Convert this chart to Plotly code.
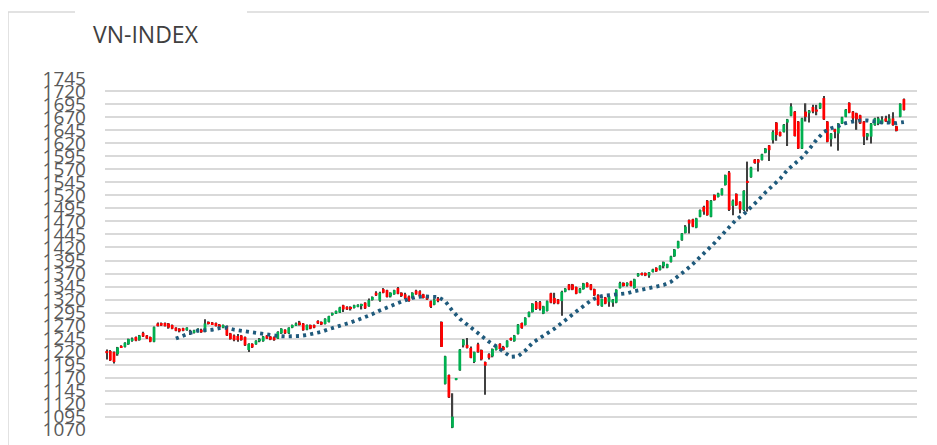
import plotly.graph_objects as go

# ---- data ----
OPEN = [1221,1221,1219,1215,1231,1229,1234,1242,1248,1242,1256,1251,1248,1239,1274,1275,1275,1274,1271,1266,
        1264,1265,1261,1258,1256,1258,1262,1258,1277,1276,1275,1272,1266,1269,1255,1251,1250,1251,1248,1223,
        1235,1234,1240,1240,1251,1249,1248,1245,1255,1262,1255,1266,1270,1276,1274,1262,1271,1271,1279,1277,
        1273,1277,1290,1293,1295,1309,1306,1305,1304,1306,1308,1314,1307,1319,1333,1318,1340,1338,1326,1330,
        1342,1333,1330,1326,1323,1337,1336,1330,1326,1317,1310,1322,1277,1158,1175,1074,1166,1184,1232,1233,
        1227,1200,1234,1223,1200,1215,1211,1223,1235,1229,1229,1246,1240,1254,1275,1271,1287,1296,1315,1315,
        1293,1298,1332,1323,1320,1317,1335,1349,1349,1344,1333,1340,1352,1349,1340,1328,1307,1324,1315,1314,
        1314,1342,1352,1347,1355,1342,1365,1371,1371,1366,1373,1381,1377,1384,1381,1392,1403,1419,1434,1448,
        1473,1474,1458,1479,1498,1510,1479,1521,1517,1521,1540,1564,1500,1523,1508,1492,1548,1555,1589,1589,
        1588,1602,1616,1626,1660,1642,1642,1660,1673,1681,1662,1610,1681,1678,1690,1685,1687,1707,1662,1628,
        1647,1639,1658,1671,1698,1681,1678,1674,1662,1633,1633,1655,1658,1658,1668,1658,1668,1653,1671,1705]
HIGH = [1224,1223,1220,1229,1232,1238,1245,1247,1249,1252,1258,1252,1249,1268,1276,1276,1276,1275,1272,1267,
        1265,1266,1267,1262,1262,1265,1264,1282,1278,1277,1276,1273,1272,1270,1256,1253,1254,1252,1249,1236,
        1236,1242,1246,1250,1252,1250,1249,1259,1265,1263,1267,1272,1276,1279,1275,1272,1272,1272,1280,1278,
        1284,1289,1295,1299,1306,1310,1307,1307,1310,1311,1312,1315,1322,1326,1336,1335,1342,1339,1334,1339,
        1344,1334,1333,1328,1334,1339,1338,1331,1327,1318,1322,1325,1278,1212,1176,1140,1169,1225,1244,1246,
        1230,1220,1237,1224,1201,1217,1226,1233,1236,1231,1242,1247,1252,1273,1276,1286,1297,1313,1317,1317,
        1308,1318,1333,1333,1321,1337,1342,1350,1350,1345,1342,1352,1353,1350,1341,1330,1322,1325,1327,1321,
        1340,1354,1353,1353,1356,1360,1371,1372,1372,1373,1379,1382,1386,1393,1389,1404,1417,1433,1448,1463,
        1474,1475,1477,1493,1500,1511,1511,1522,1525,1534,1560,1567,1512,1524,1509,1530,1585,1575,1590,1590,
        1600,1611,1617,1645,1661,1643,1657,1667,1697,1682,1663,1669,1697,1684,1694,1694,1698,1711,1663,1640,
        1648,1659,1671,1686,1699,1682,1679,1675,1663,1640,1659,1669,1671,1672,1673,1676,1680,1654,1697,1706]
LOW = [1205,1202,1197,1212,1227,1228,1233,1239,1240,1241,1248,1244,1238,1238,1268,1269,1268,1264,1263,1259,
       1257,1259,1260,1252,1255,1257,1256,1257,1272,1271,1268,1266,1265,1250,1243,1240,1239,1241,1231,1219,
       1227,1233,1238,1239,1244,1242,1241,1244,1254,1254,1254,1265,1269,1270,1260,1261,1263,1265,1273,1271,
       1272,1276,1289,1292,1294,1296,1300,1299,1303,1305,1301,1302,1306,1318,1327,1316,1332,1324,1324,1329,
       1330,1325,1321,1316,1322,1329,1325,1322,1319,1304,1309,1315,1229,1157,1131,1073,1165,1183,1228,1226,
       1207,1198,1218,1203,1137,1205,1209,1222,1224,1222,1228,1241,1239,1253,1264,1270,1286,1295,1300,1299,
       1292,1297,1313,1311,1311,1289,1334,1338,1338,1330,1332,1339,1343,1338,1327,1308,1306,1311,1306,1306,
       1313,1341,1345,1345,1345,1341,1364,1366,1365,1362,1372,1373,1376,1380,1380,1391,1402,1418,1433,1447,
       1447,1459,1457,1478,1483,1481,1478,1510,1516,1520,1539,1490,1482,1500,1486,1490,1489,1554,1581,1566,
       1587,1601,1586,1620,1625,1633,1641,1615,1672,1633,1609,1609,1662,1660,1678,1674,1686,1665,1622,1614,
       1630,1606,1657,1670,1678,1663,1646,1657,1617,1626,1620,1654,1655,1657,1661,1657,1654,1643,1670,1683]
CLOSE = [1217,1203,1200,1228,1228,1237,1244,1245,1241,1251,1249,1245,1239,1267,1269,1270,1269,1266,1264,1260,
         1259,1260,1266,1256,1261,1264,1257,1274,1273,1273,1269,1267,1271,1251,1244,1242,1242,1242,1232,1235,
         1228,1241,1244,1249,1245,1243,1242,1258,1264,1255,1266,1271,1274,1271,1261,1271,1264,1266,1274,1272,
         1283,1288,1294,1298,1305,1301,1301,1303,1309,1310,1311,1303,1319,1325,1328,1333,1333,1325,1333,1338,
         1331,1327,1322,1317,1333,1330,1326,1323,1320,1306,1320,1317,1229,1211,1132,1095,1168,1224,1243,1227,
         1208,1219,1219,1205,1193,1208,1225,1231,1225,1223,1241,1242,1251,1272,1265,1285,1296,1312,1302,1302,
         1307,1317,1314,1313,1312,1335,1341,1339,1339,1331,1341,1351,1344,1339,1328,1310,1321,1312,1326,1320,
         1339,1352,1346,1352,1346,1359,1370,1367,1366,1372,1378,1374,1385,1392,1388,1403,1416,1432,1447,1460,
         1466,1460,1476,1492,1489,1482,1510,1511,1524,1533,1559,1492,1510,1501,1493,1529,1545,1574,1582,1583,
         1599,1610,1607,1642,1636,1634,1656,1666,1691,1634,1610,1668,1671,1683,1681,1681,1697,1666,1623,1639,
         1642,1658,1670,1685,1679,1668,1666,1658,1633,1639,1658,1668,1668,1666,1662,1668,1655,1644,1696,1684]

# moving-average dotted line, read at every second candle
MA_IDX = list(range(19, 220, 2))
MA_VAL = [1245,1251,1256,1260,1261,1262,1265,1266,1262,1260,1257,1255,1253,1251,1250,1249,1249,1250,1252,1255,
          1258,1263,1267,1271,1276,1281,1286,1292,1299,1305,1311,1316,1321,1325,1326,1325,1325,1317,1298,1283,
          1272,1261,1249,1239,1230,1221,1210,1211,1222,1237,1247,1255,1264,1276,1286,1297,1308,1318,1325,1328,
          1329,1330,1332,1336,1339,1342,1345,1348,1354,1364,1376,1388,1401,1414,1429,1444,1460,1474,1484,1497,
          1511,1526,1538,1552,1569,1582,1593,1609,1627,1642,1649,1653,1659,1662,1664,1664,1662,1660,1660,1659,
          1661]

Y_TICKS = list(range(1070, 1746, 25))
TITLE = "VN-INDEX"

UP, DOWN, WICK, MA_COLOR = "#00b050", "#ff0000", "#404040", "#1f5a7c"

# ---- figure ----
N = len(OPEN)
IDX = list(range(N))
body_base = [min(o, c) for o, c in zip(OPEN, CLOSE)]
body_len = [max(abs(c - o), 1.2) for o, c in zip(OPEN, CLOSE)]
body_col = [UP if c >= o else DOWN for o, c in zip(OPEN, CLOSE)]
wick_len = [h - l for h, l in zip(HIGH, LOW)]

fig = go.Figure()
# high-low lines
fig.add_trace(go.Bar(x=IDX, y=wick_len, base=LOW, width=0.36,
                     marker=dict(color=WICK, line=dict(width=0)),
                     hoverinfo="skip", showlegend=False))
# open-close bodies
fig.add_trace(go.Bar(x=IDX, y=body_len, base=body_base, width=0.76,
                     marker=dict(color=body_col, line=dict(width=0)),
                     customdata=list(zip(OPEN, HIGH, LOW, CLOSE)),
                     hovertemplate="O %{customdata[0]}<br>H %{customdata[1]}<br>L %{customdata[2]}<br>C %{customdata[3]}<extra></extra>",
                     showlegend=False))
# moving average (dotted)
fig.add_trace(go.Scatter(x=MA_IDX, y=MA_VAL, mode="lines",
                         line=dict(color=MA_COLOR, width=3.8, dash="3.1px,4.1px"),
                         showlegend=False))

# the page has an 8px body margin: figure coordinates = screen coordinates - 8
OFF = 8
W, H = 937 - OFF, 445 - OFF
L, R, T, B = 105 - OFF, 937 - 917, 78 - OFF, 445 - 430
pw, ph = W - L - R, H - T - B


def px(x):
    return (x - OFF - L) / pw


def py(y):
    return (H - B - (y - OFF)) / ph


border = dict(color="#d9d9d9", width=1.5)
shapes = [
    dict(type="line", xref="paper", yref="paper", x0=px(8), x1=px(75), y0=py(12), y1=py(12), line=border),
    dict(type="line", xref="paper", yref="paper", x0=px(247), x1=px(945), y0=py(12), y1=py(12), line=border),
    dict(type="line", xref="paper", yref="paper", x0=px(8), x1=px(8), y0=py(12), y1=py(460), line=border),
]

fig.update_layout(
    width=W, height=H,
    margin=dict(l=L, r=R, t=T, b=B, autoexpand=False),
    paper_bgcolor="white", plot_bgcolor="white",
    barmode="overlay",
    title=dict(text=TITLE, xref="container", yref="container", x=(93 - OFF) / W, xanchor="left",
               y=1 - (35 - OFF) / H, yanchor="middle",
               font=dict(family="Open Sans", size=23, color="#404040")),
    xaxis=dict(range=[-0.47, 222.6], visible=False, automargin=False),
    yaxis=dict(range=[1069.4, 1745.6], tickvals=Y_TICKS, ticktext=[str(v) for v in Y_TICKS],
               automargin=False,
               showgrid=True, gridcolor="#d9d9d9", gridwidth=1.5, zeroline=False,
               showline=False, ticks="", ticklabelstandoff=18,
               tickfont=dict(family="Open Sans", size=19, color="#595959")),
    shapes=shapes,
    showlegend=False,
)

fig.write_html("out.html")
